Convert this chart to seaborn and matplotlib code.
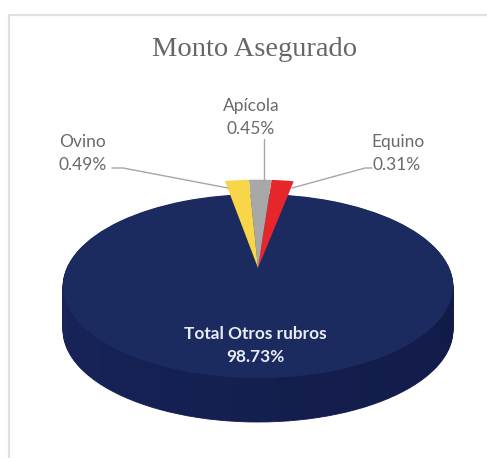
import matplotlib
matplotlib.use('Agg')
import matplotlib.pyplot as plt
import seaborn as sns

sns.set_theme(style='white')

# labels as printed on the chart
categories = ['Equino', 'Apícola', 'Ovino', 'Total Otros rubros']
label_values = ['0.31%', '0.45%', '0.49%', '98.73%']
# slice sizes as they look in the picture (small slices are drawn wider than their labels say)
slice_sizes = [1.9, 1.93, 2.05, 94.12]
colors = ['#e6262b', '#a8a8a8', '#f8d648', '#00000000']
navy = '#1b2b5f'
side_colors = sns.blend_palette(['#18245a', '#141e4e', '#121b48', '#0f1638', '#0f1638'], 30)

text_color = '#6a6a6a'

fig = plt.figure(figsize=(4.87, 4.58), dpi=100)

# pie axes: one unit is 195 px across and 92 px down, centre at px (258, 286)
ax = fig.add_axes([0, 0, 1, 1])
ax.patch.set_alpha(0)

# side of the disc, stacked downwards
for d in range(44, 0, -1):
    ax.pie([1] * 30, colors=side_colors, startangle=180, radius=1,
           center=(0, -d / 92), wedgeprops={'linewidth': 0.6, 'edgecolor': None})
    for w in ax.patches[-30:]:
        w.set_edgecolor(w.get_facecolor())

# top of the disc, then the small slices pulled out together towards the back
ax.pie([1], colors=[navy], wedgeprops={'linewidth': 0})
ax.pie(slice_sizes, colors=colors, startangle=79, center=(0, 18 / 92), radius=0.96,
       wedgeprops={'linewidth': 0})

ax.set_aspect('auto')
ax.set_xlim(-258 / 195, (487 - 258) / 195)
ax.set_ylim((286 - 458) / 92, 286 / 92)
ax.axis('off')

# overlay in pixel coordinates for frame, leaders and labels
over = fig.add_axes([0, 0, 1, 1])
over.set_xlim(0, 487)
over.set_ylim(458, 0)
over.axis('off')
over.patch.set_alpha(0)

over.plot([9, 9, 487], [458, 15, 15], color='#e0e0e0', lw=1.6)

over.plot([112, 123, 228], [168, 168, 188], color='#a6a6a6', lw=1)
over.plot([264, 264], [139, 182], color='#a6a6a6', lw=1)
over.plot([372, 365, 292], [168, 168, 188], color='#a6a6a6', lw=1)

over.text(255, 49, 'Monto Asegurado', ha='center', va='center', color='#666666',
          fontsize=20.5, family='Liberation Serif')

lab = {'ha': 'center', 'va': 'center', 'color': text_color, 'fontsize': 12.5, 'family': 'Lato'}
over.text(83, 142, categories[2], **lab)
over.text(83, 165, label_values[2], **lab)
over.text(251, 106, categories[1], **lab)
over.text(251, 129, label_values[1], **lab)
over.text(398, 142, categories[0], **lab)
over.text(397, 165, label_values[0], **lab)

inner = {'ha': 'center', 'va': 'center', 'color': '#e8ecf5', 'fontsize': 12.4,
         'family': 'Lato', 'fontweight': 'bold'}
over.text(255, 334, categories[3], **inner)
over.text(255, 357, label_values[3], **inner)

fig.savefig('out.png', dpi=100, facecolor='white')
